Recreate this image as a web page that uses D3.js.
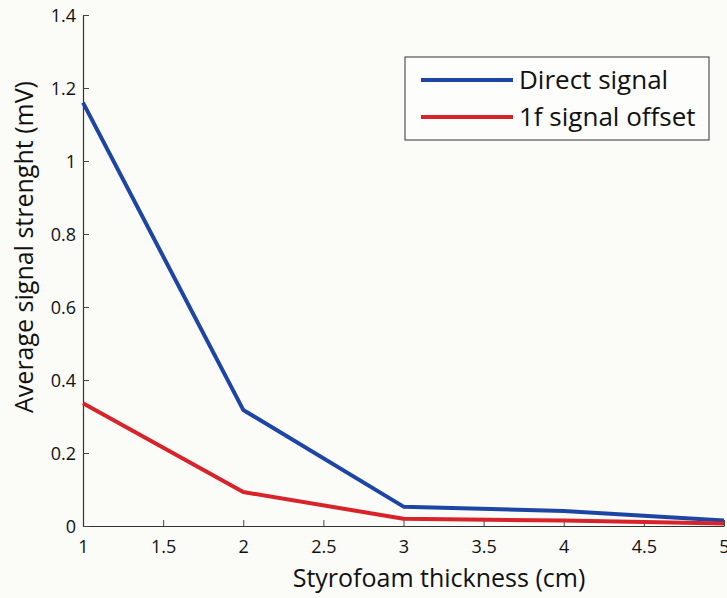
<!DOCTYPE html>
<html>
<head>
<meta charset="utf-8">
<script src="https://cdn.jsdelivr.net/npm/d3@7/dist/d3.min.js"></script>
<style>
  html, body { margin: 0; padding: 0; background: #fbfbf8; }
  svg { display: block; }
  text { font-family: "Open Sans", "Noto Sans", sans-serif; fill: #111; }
</style>
</head>
<body>
<svg id="chart" width="727" height="598"></svg>
<script>
// Styrofoam thickness in cm
const thickness = [1, 2, 3, 4, 5];
// Average signal strength in mV
const directSignal = [1.16, 0.318, 0.053, 0.041, 0.015];
const offsetSignal = [0.336, 0.093, 0.020, 0.015, 0.007];

const seriesNames = ["Direct signal", "1f signal offset"];
const seriesColors = ["#1d45a3", "#d8232a"];

const xTicks = [1, 1.5, 2, 2.5, 3, 3.5, 4, 4.5, 5];
const yTicks = [0, 0.2, 0.4, 0.6, 0.8, 1, 1.2, 1.4];

const xTitle = "Styrofoam thickness (cm)";
const yTitle = "Average signal strenght (mV)";

const svg = d3.select("#chart");
const margin = { left: 83, right: 3, top: 15, bottom: 72 };
const W = 727, H = 598;

const x = d3.scaleLinear().domain([1, 5]).range([margin.left, W - margin.right]);
const y = d3.scaleLinear().domain([0, 1.4]).range([H - margin.bottom, margin.top]);

const fmt = d => String(+d.toFixed(1));

// Axes with inward ticks
const gx = svg.append("g")
  .attr("transform", `translate(0,${y(0)})`)
  .call(d3.axisBottom(x).tickValues(xTicks).tickFormat(fmt)
    .tickSizeInner(-6).tickSizeOuter(0).tickPadding(14));
const gy = svg.append("g")
  .attr("transform", `translate(${x(1)},0)`)
  .call(d3.axisLeft(y).tickValues(yTicks).tickFormat(fmt)
    .tickSizeInner(-6).tickSizeOuter(0).tickPadding(7));

[gx, gy].forEach(g => {
  g.select(".domain").attr("stroke", "#333").attr("stroke-width", 1.2);
  g.selectAll(".tick line").attr("stroke", "#444").attr("stroke-width", 1);
  g.selectAll(".tick text").attr("font-size", 18)
    .attr("font-family", "'Open Sans', sans-serif").attr("fill", "#151515");
});
gy.selectAll(".tick text").attr("dy", "0.36em");

// Series lines
const line = d3.line().x((d, i) => x(thickness[i])).y(d => y(d));
[directSignal, offsetSignal].forEach((vals, k) => {
  svg.append("path")
    .datum(vals)
    .attr("d", line)
    .attr("fill", "none")
    .attr("stroke", seriesColors[k])
    .attr("stroke-width", 4)
    .attr("stroke-linejoin", "round");
});

// Axis titles
svg.append("text")
  .attr("x", 439).attr("y", 587)
  .attr("text-anchor", "middle")
  .attr("font-size", 25)
  .attr("font-weight", 500)
  .text(xTitle);
svg.append("text")
  .attr("transform", `translate(33,247) rotate(-90)`)
  .attr("text-anchor", "middle")
  .attr("font-size", 25)
  .attr("font-weight", 500)
  .text(yTitle);

// Legend
const legend = svg.append("g");
legend.append("rect")
  .attr("x", 405).attr("y", 57).attr("width", 304).attr("height", 83)
  .attr("fill", "#fdfdfb").attr("stroke", "#333").attr("stroke-width", 1);
seriesNames.forEach((name, k) => {
  const ly = 80 + k * 37;
  legend.append("line")
    .attr("x1", 421).attr("x2", 513).attr("y1", ly).attr("y2", ly)
    .attr("stroke", seriesColors[k]).attr("stroke-width", 4);
  legend.append("text")
    .attr("x", 519).attr("y", ly).attr("dy", "0.36em")
    .attr("font-size", 26)
    .attr("font-weight", 500)
    .text(name);
});
</script>
</body>
</html>
